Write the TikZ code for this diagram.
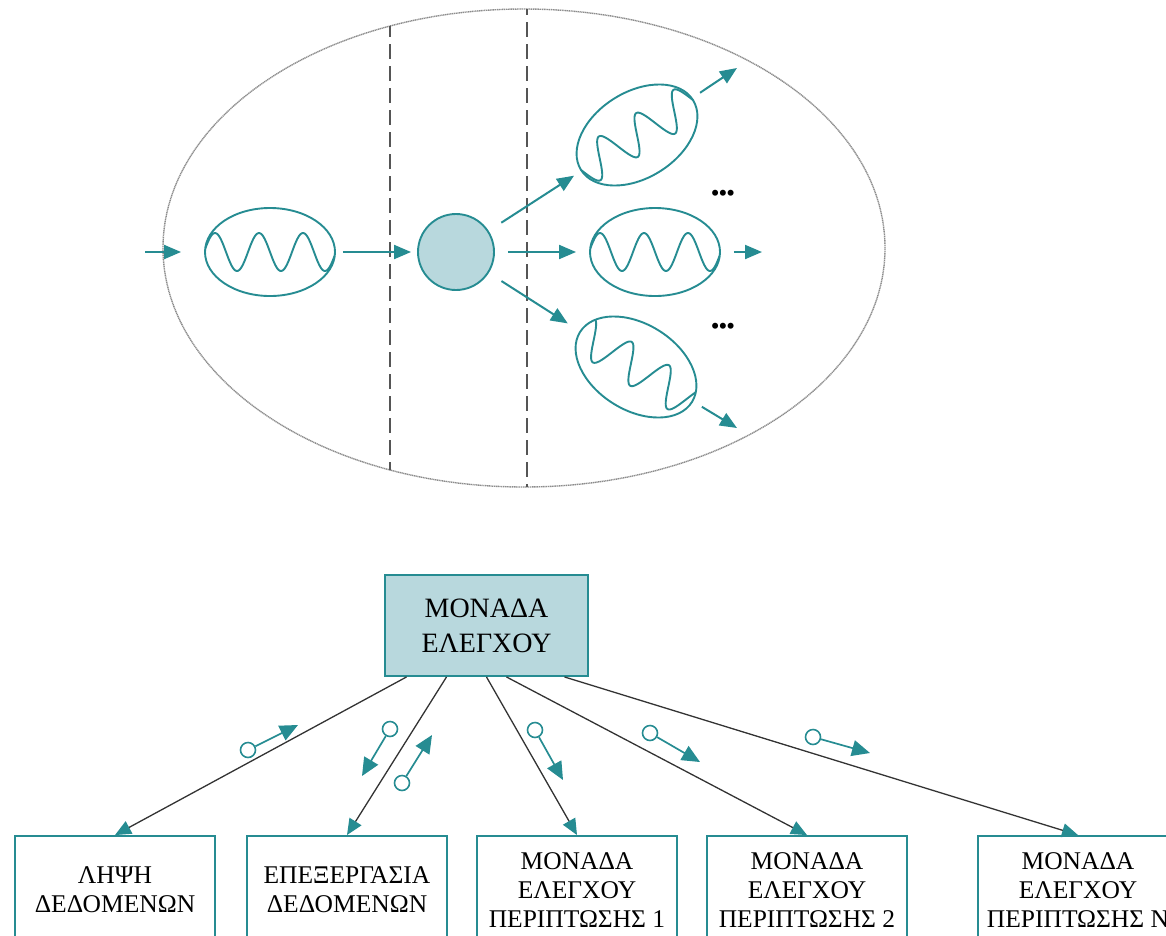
\documentclass[tikz,border=0pt]{standalone}
\usepackage{fontspec}
\setmainfont{Liberation Serif}
\usetikzlibrary{arrows.meta,shapes.geometric}
\definecolor{teal1}{RGB}{38,140,146}
\definecolor{pale}{RGB}{184,216,221}
\definecolor{rule}{RGB}{85,85,85}

\begin{document}
\begin{tikzpicture}[x=1pt,y=-1pt,
  cell/.style={draw=gray!90, line width=1.4pt, dash pattern=on 1.2pt off 0.6pt},
  divider/.style={draw=rule, line width=1.3pt, dash pattern=on 15pt off 7pt},
  mito/.style={ellipse, draw=teal1, line width=1.9pt, minimum width=130pt,
    minimum height=88pt, inner sep=0pt},
  wave/.style={draw=teal1, line width=1.9pt},
  flow/.style={draw=teal1, line width=2pt, -{Triangle[length=17pt,width=14pt]}},
  core/.style={circle, draw=teal1, fill=pale, line width=1.9pt, minimum size=76pt, inner sep=0pt},
  dots/.style={font=\bfseries\fontsize{22}{22}\selectfont, inner sep=0pt},
  ctrlbox/.style={rectangle, draw=teal1, fill=pale, line width=1.9pt, minimum width=203pt,
    minimum height=101pt, align=center, inner sep=0pt, font=\fontsize{28}{35}\selectfont},
  unitbox/.style={rectangle, draw=teal1, fill=white, line width=1.9pt, minimum width=200pt,
    minimum height=108pt, align=center, inner sep=0pt, font=\fontsize{25.5}{29}\selectfont},
  link/.style={draw=black!80, line width=1.3pt, -{Triangle[length=16pt,width=14pt,color=teal1]}},
  msgdot/.style={circle, draw=teal1, fill=white, line width=1.6pt, minimum size=15pt, inner sep=0pt},
  msg/.style={draw=teal1, line width=1.7pt, -{Triangle[length=18pt,width=16pt]}}
]
\useasboundingbox (0,0) rectangle (1166,935);

% ---------- the cell with its three zones ----------
\draw[cell] (524,248) ellipse [x radius=361pt, y radius=239pt];
\begin{scope}
  \clip (524,248) ellipse [x radius=361pt, y radius=239pt];
  \draw[divider] (390,0) -- (390,500);
  \draw[divider] (527,0) -- (527,500);
\end{scope}

% ---------- organelles ----------
\node[mito] (m1) at (270,252) {};
\node[mito] (m3) at (655,252) {};
\node[mito, rotate=32, minimum width=132pt, minimum height=86pt] (m2) at (637,135) {};
\node[mito, rotate=-32, minimum width=132pt, minimum height=86pt] (m4) at (636,367) {};
\node[core] (c) at (456,252) {};

% inner membrane folds (period 44, so 360/44 degrees per unit)
\begin{scope}[shift={(m1.center)}]
  \clip (0,0) ellipse [x radius=65pt, y radius=44pt];
  \draw[wave] plot[domain=-80:80, samples=140, smooth] (\x, {-19*cos(8.1818*(\x+11))});
\end{scope}
\begin{scope}[shift={(m3.center)}]
  \clip (0,0) ellipse [x radius=65pt, y radius=44pt];
  \draw[wave] plot[domain=-80:80, samples=140, smooth] (\x, {-19*cos(8.1818*(\x+11))});
\end{scope}
\begin{scope}[shift={(m2.center)}, rotate=32]
  \clip (0,0) ellipse [x radius=66pt, y radius=43pt];
  \draw[wave] plot[domain=-80:80, samples=140, smooth] (\x, {-19*cos(8.1818*(\x-11))});
\end{scope}
\begin{scope}[shift={(m4.center)}, rotate=-32]
  \clip (0,0) ellipse [x radius=66pt, y radius=43pt];
  \draw[wave] plot[domain=-80:80, samples=140, smooth] (\x, {-19*cos(8.1818*(\x+17))});
\end{scope}

% ---------- flow arrows ----------
\coordinate (in) at (145,252);
\coordinate (o2) at (737,68);
\coordinate (o3) at (762,252);
\coordinate (o4) at (737,428);
\draw[flow, shorten >=23pt] (in) -- (m1);
\draw[flow, shorten <=7pt, shorten >=6pt] (m1) -- (c);
\draw[flow, shorten <=15pt, shorten >=8pt] (c) -- (m2);
\draw[flow, shorten <=13pt, shorten >=13pt] (c) -- (m3);
\draw[flow, shorten <=15pt, shorten >=14pt] (c) -- (m4);
\draw[flow, shorten <=9pt] (m2) -- (o2);
\draw[flow, shorten <=13pt] (m3) -- (o3);
\draw[flow, shorten <=10pt] (m4) -- (o4);

\node[dots] (d1) at (723,195) {•••};
\node[dots] (d2) at (723,328) {•••};

% ---------- control hierarchy ----------
\node[ctrlbox] (ctrl) at (486.5,625.5) {ΜΟΝΑΔΑ\\ΕΛΕΓΧΟΥ};
\node[unitbox] (u1) at (115,890) {ΛΗΨΗ\\ΔΕΔΟΜΕΝΩΝ};
\node[unitbox] (u2) at (347,890) {ΕΠΕΞΕΡΓΑΣΙΑ\\ΔΕΔΟΜΕΝΩΝ};
\node[unitbox] (u3) at (577,890) {ΜΟΝΑΔΑ\\ΕΛΕΓΧΟΥ\\ΠΕΡΙΠΤΩΣΗΣ 1};
\node[unitbox] (u4) at (807,890) {ΜΟΝΑΔΑ\\ΕΛΕΓΧΟΥ\\ΠΕΡΙΠΤΩΣΗΣ 2};
\node[unitbox] (u5) at (1078,890) {ΜΟΝΑΔΑ\\ΕΛΕΓΧΟΥ\\ΠΕΡΙΠΤΩΣΗΣ Ν};

\draw[link] ([xshift=-80pt]ctrl.south) -- (u1.north);
\draw[link] ([xshift=-40pt]ctrl.south) -- (u2.north);
\draw[link] (ctrl.south) -- (u3.north);
\draw[link] ([xshift=20pt]ctrl.south) -- (u4.north);
\draw[link] ([xshift=78pt]ctrl.south) -- (u5.north);

% ---------- messages along the links ----------
\node[msgdot] (s1) at (248,750) {};
\node[msgdot] (s2) at (390,729) {};
\node[msgdot] (s3) at (402,783) {};
\node[msgdot] (s4) at (535,730) {};
\node[msgdot] (s5) at (650,733) {};
\node[msgdot] (s6) at (813,737) {};
\coordinate (t1) at (298,725);
\coordinate (t2) at (362,776);
\coordinate (t3) at (432,735);
\coordinate (t4) at (563,780);
\coordinate (t5) at (700,762);
\coordinate (t6) at (870,753);
\draw[msg] (s1) -- (t1);
\draw[msg] (s2) -- (t2);
\draw[msg] (s3) -- (t3);
\draw[msg] (s4) -- (t4);
\draw[msg] (s5) -- (t5);
\draw[msg] (s6) -- (t6);
\end{tikzpicture}
\end{document}
